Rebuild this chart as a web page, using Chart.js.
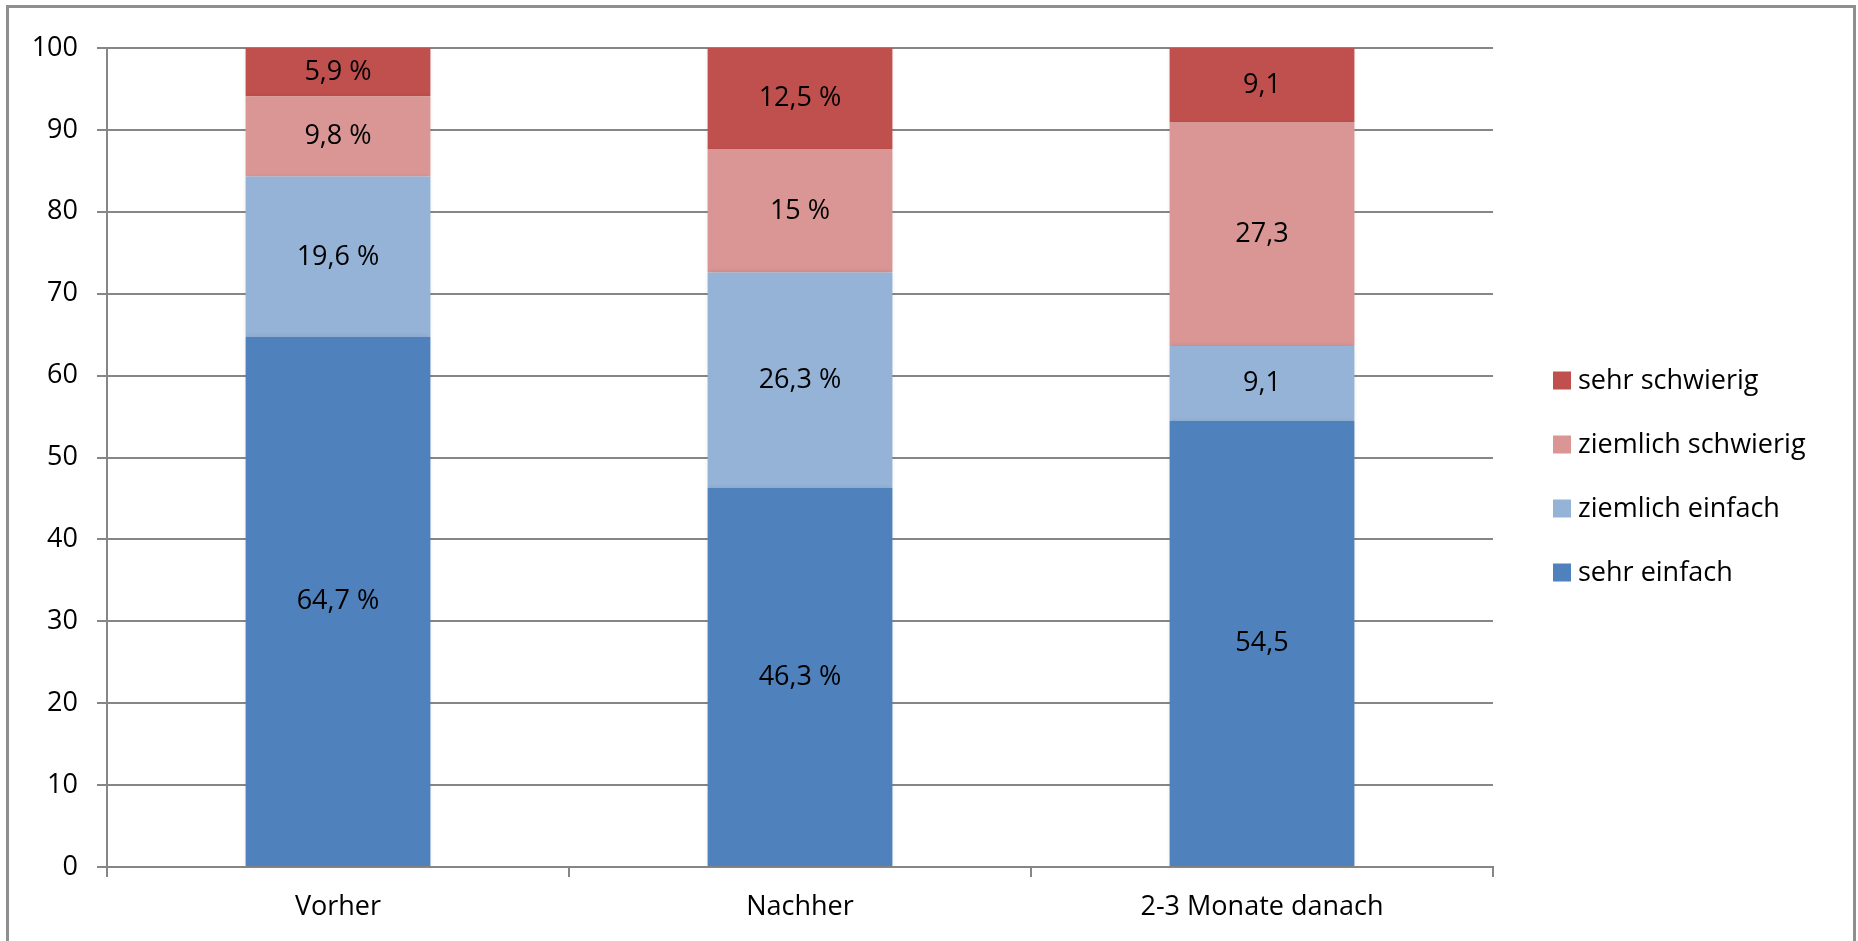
<!DOCTYPE html>
<html lang="de">
<head>
<meta charset="utf-8">
<title>Einschätzung vorher / nachher</title>
<script src="https://cdn.jsdelivr.net/npm/chart.js@4.4.1/dist/chart.umd.min.js"></script>
<style>
    html, body { margin: 0; padding: 0; background: #fff; overflow: hidden; }
    #frame {
        position: absolute; left: 6px; top: 5px; width: 1850px; height: 1000px;
        border: 3px solid #8f8f8f; box-sizing: border-box;
    }
    #wrap { position: absolute; left: 0; top: 0; width: 1858px; height: 941px; }
</style>
</head>
<body>
<div id="frame"></div>
<div id="wrap"><canvas id="chart"></canvas></div>
<script>
// Daten
const kategorien = ['Vorher', 'Nachher', '2-3 Monate danach'];
const sehrEinfach = [64.7, 46.3, 54.5];
const ziemlichEinfach = [19.6, 26.3, 9.1];
const ziemlichSchwierig = [9.8, 15, 27.3];
const sehrSchwierig = [5.9, 12.5, 9.1];
const mitProzent = [true, true, false];   // 3. Balken ohne "%"
const yTicks = [0, 10, 20, 30, 40, 50, 60, 70, 80, 90, 100];

const FONT = "'Open Sans', sans-serif";
const GRAU = '#868686';

// Werte in die Balkensegmente schreiben
const wertLabels = {
    id: 'wertLabels',
    afterDatasetsDraw(chart) {
        const ctx = chart.ctx;
        ctx.save();
        ctx.font = `27px ${FONT}`;
        ctx.fillStyle = '#000';
        ctx.textAlign = 'center';
        ctx.textBaseline = 'middle';
        chart.data.datasets.forEach((ds, i) => {
            chart.getDatasetMeta(i).data.forEach((bar, j) => {
                const p = bar.getProps(['x', 'y', 'base'], true);
                const txt = String(ds.data[j]).replace('.', ',') + (mitProzent[j] ? ' %' : '');
                ctx.fillText(txt, p.x, (p.y + p.base) / 2);
            });
        });
        ctx.restore();
    }
};

// Legende rechts (umgekehrte Reihenfolge)
const legendeRechts = {
    id: 'legendeRechts',
    afterDraw(chart) {
        const ctx = chart.ctx;
        const a = chart.chartArea;
        const ds = chart.data.datasets.slice().reverse();
        const abstand = 64;
        const start = (a.top + a.bottom) / 2 + 19 - abstand * (ds.length - 1) / 2;
        const x = a.right + 60;
        ctx.save();
        ctx.font = `27px ${FONT}`;
        ctx.textBaseline = 'middle';
        ds.forEach((d, i) => {
            const y = start + i * abstand;
            ctx.fillStyle = d.backgroundColor;
            ctx.fillRect(x, y - 9, 18, 18);
            ctx.fillStyle = '#000';
            ctx.fillText(d.label, x + 25, y + 1);
        });
        ctx.restore();
    }
};

// leichter Schatten an den Balken
const balkenSchatten = {
    id: 'balkenSchatten',
    beforeDatasetsDraw(chart) {
        chart.ctx.save();
        chart.ctx.shadowColor = 'rgba(0,0,0,0.12)';
        chart.ctx.shadowBlur = 5;
    },
    afterDatasetsDraw(chart) {
        chart.ctx.restore();
    }
};

const ctx = document.getElementById('chart').getContext('2d');
Chart.defaults.font.family = FONT;
Chart.defaults.font.size = 27;
Chart.defaults.color = '#000';

new Chart(ctx, {
    type: 'bar',
    data: {
        labels: kategorien,
        datasets: [
            { label: 'sehr einfach', data: sehrEinfach, backgroundColor: '#4F81BD' },
            { label: 'ziemlich einfach', data: ziemlichEinfach, backgroundColor: '#95B3D7' },
            { label: 'ziemlich schwierig', data: ziemlichSchwierig, backgroundColor: '#D99694' },
            { label: 'sehr schwierig', data: sehrSchwierig, backgroundColor: '#C0504D' }
        ]
    },
    options: {
        responsive: true,
        maintainAspectRatio: false,
        animation: false,
        layout: { padding: { left: 0, top: 48, right: 365, bottom: 0 } },
        datasets: { bar: { categoryPercentage: 1, barPercentage: 0.4, borderWidth: 0 } },
        plugins: { legend: { display: false }, tooltip: { enabled: false } },
        scales: {
            x: {
                stacked: true,
                grid: { drawOnChartArea: false, drawTicks: true, tickLength: 10, color: GRAU, lineWidth: 2, offset: true },
                border: { color: GRAU, width: 2 },
                ticks: { padding: 14, font: { size: 27 } },
                afterFit: s => { s.height = 74; }
            },
            y: {
                stacked: true,
                min: 0,
                max: 100,
                afterBuildTicks: s => { s.ticks = yTicks.map(v => ({ value: v })); },
                grid: { color: GRAU, lineWidth: 2, tickLength: 10 },
                border: { color: GRAU, width: 2 },
                ticks: { padding: 19, font: { size: 27 } },
                afterFit: s => { s.width = 107; }
            }
        }
    },
    plugins: [balkenSchatten, wertLabels, legendeRechts]
});
</script>
</body>
</html>
